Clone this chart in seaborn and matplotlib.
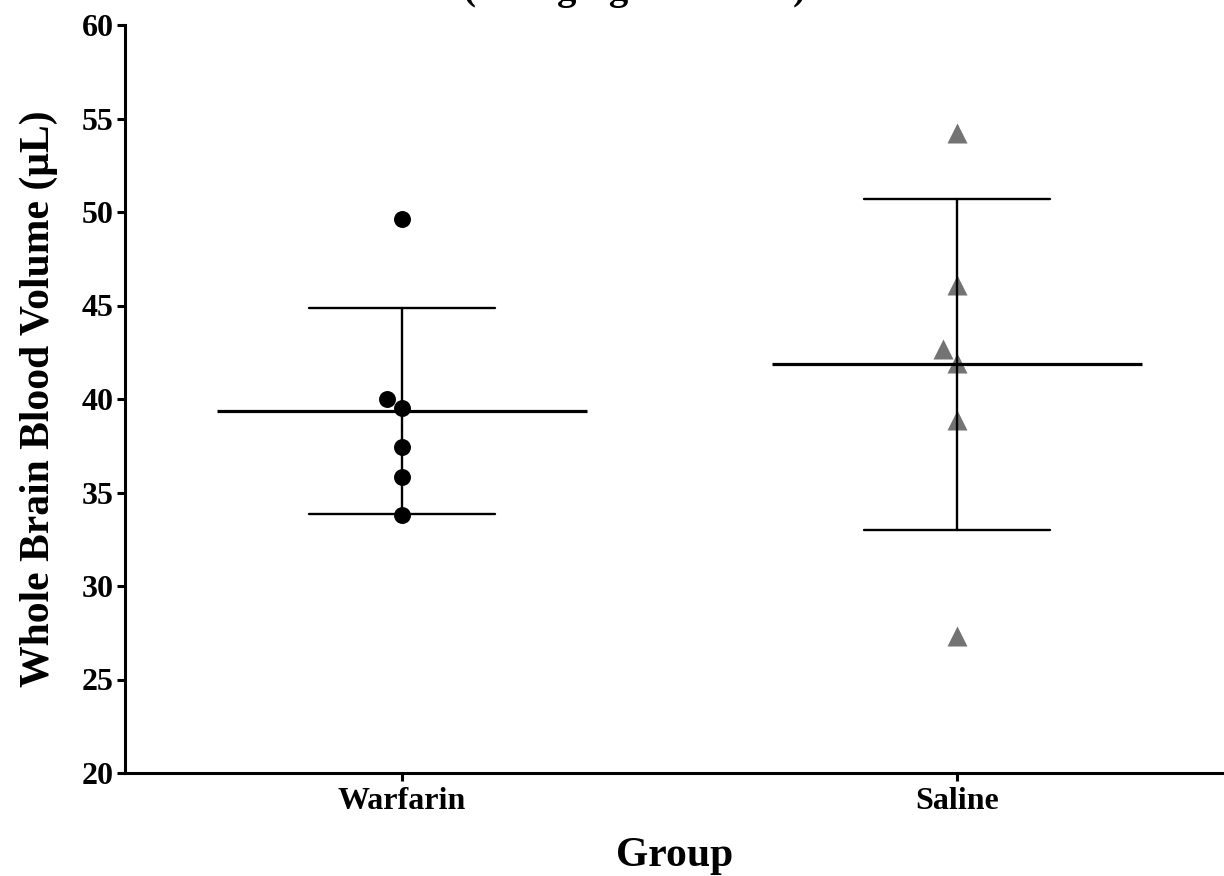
import numpy as np
import pandas as pd
import matplotlib
matplotlib.use("Agg")
import matplotlib.pyplot as plt
import seaborn as sns

# ---- data ----
groups = ["Warfarin", "Saline"]
warfarin_values = [49.6, 40.0, 39.5, 37.45, 35.85, 33.8]
saline_values = [54.2, 46.1, 42.7, 41.9, 38.9, 27.3]
y_ticks = [20, 25, 30, 35, 40, 45, 50, 55, 60]
title_text = "(10 mg/kg Warfarin)"
x_label = "Group"
y_label = "Whole Brain Blood Volume (\u03bcL)"

df = pd.DataFrame({
    "Group": ["Warfarin"] * len(warfarin_values) + ["Saline"] * len(saline_values),
    "Volume": warfarin_values + saline_values,
})

sns.set_theme(style="ticks")
plt.rcParams["font.family"] = ["Liberation Serif", "DejaVu Serif"]
plt.rcParams["font.weight"] = "bold"

fig = plt.figure(figsize=(12.24, 8.76), dpi=100)
ax = fig.add_axes([125 / 1224, 1 - 773 / 876, 1 - 125 / 1224, (773 - 25) / 876])

ax.set_xlim(-0.499, 1.481)
ax.set_ylim(20, 60)

# individual points
sns.swarmplot(data=df[df.Group == "Warfarin"], x="Group", y="Volume", order=groups,
              color="black", marker="o", size=12.2, linewidth=0, ax=ax, zorder=3)
sns.swarmplot(data=df[df.Group == "Saline"], x="Group", y="Volume", order=groups,
              color="#737373", marker="^", size=14.4, linewidth=0, ax=ax, zorder=2)

# mean (wide line marker) and SD error bars
sns.pointplot(data=df, x="Group", y="Volume", order=groups, errorbar="sd",
              capsize=0.336, color="black", linestyle="none", marker="_",
              markersize=266, markeredgewidth=2.3,
              err_kws={"linewidth": 1.7, "zorder": 4}, ax=ax, zorder=4)

ax.set_xlim(-0.499, 1.481)
ax.set_ylim(20, 60)
ax.set_yticks(y_ticks)
ax.set_yticklabels([str(t) for t in y_ticks])

for side in ["top", "right"]:
    ax.spines[side].set_visible(False)
for side in ["left", "bottom"]:
    ax.spines[side].set_linewidth(2.2)
    ax.spines[side].set_color("black")

ax.tick_params(axis="both", direction="out", length=6, width=2.2, color="black",
               labelsize=23, labelcolor="black")
ax.tick_params(axis="y", pad=2)
ax.tick_params(axis="x", pad=4)
for lab in ax.get_xticklabels() + ax.get_yticklabels():
    lab.set_fontweight("bold")

ax.set_xlabel(x_label, fontsize=30, fontweight="bold", labelpad=15, color="black")
ax.set_ylabel(y_label, fontsize=30, fontweight="bold", labelpad=17, color="black")

fig.text(634 / 1224, 1 + 1 / 876, title_text, ha="center", va="baseline",
         fontsize=28, fontweight="bold", color="black")

fig.savefig("out.png", dpi=100, facecolor="white")
